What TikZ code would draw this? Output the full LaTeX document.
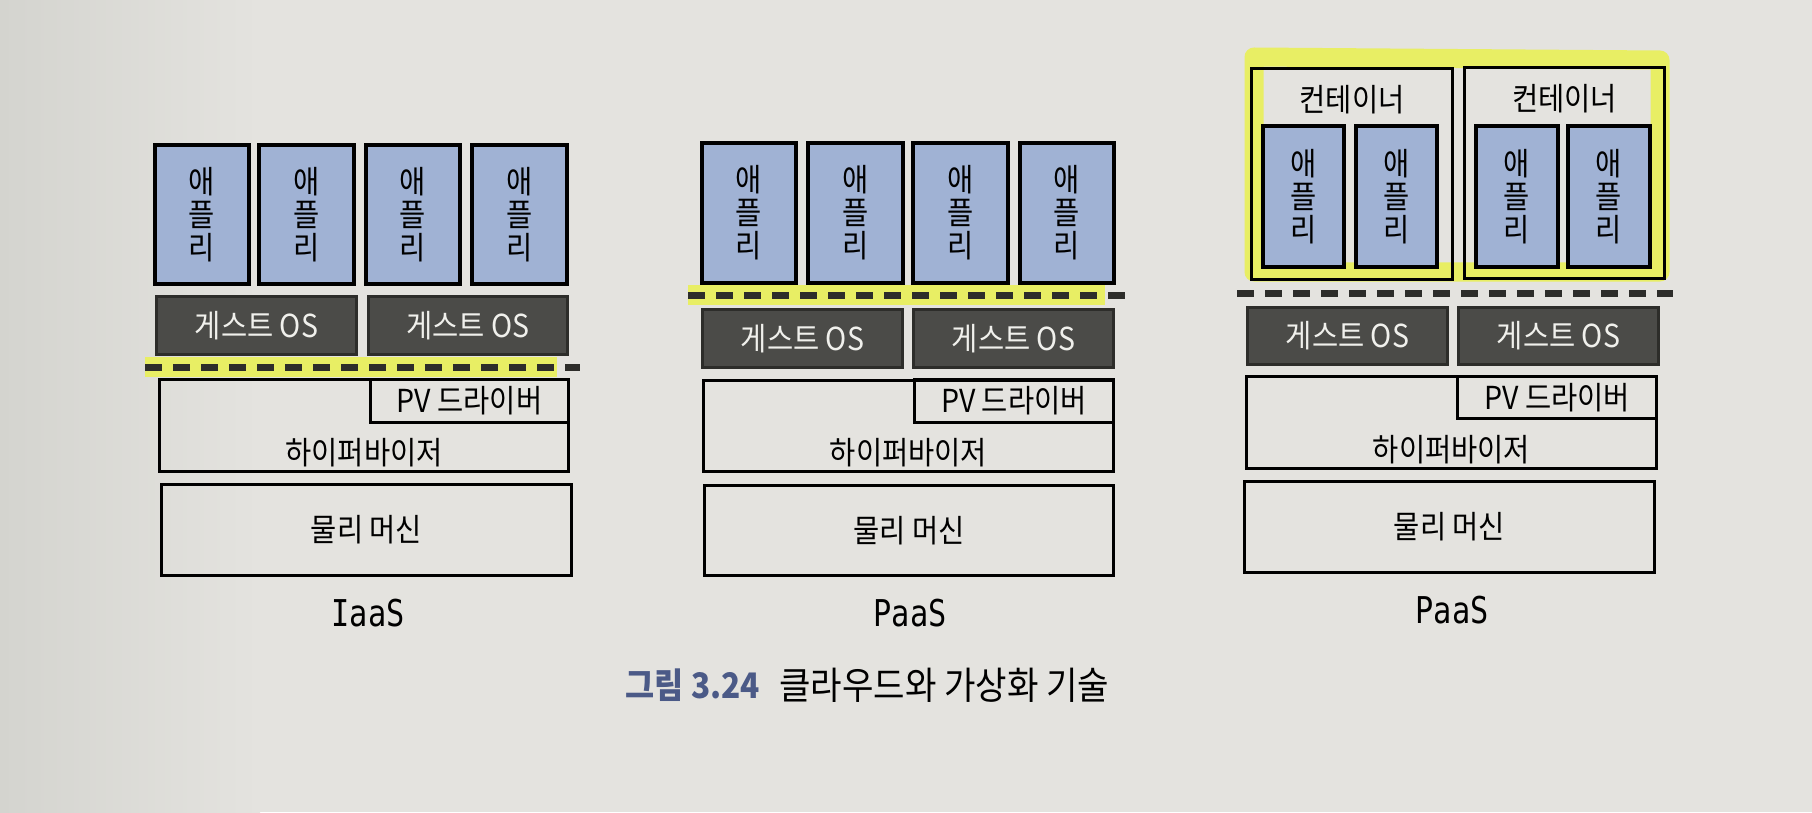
\documentclass[tikz,border=0pt]{standalone}
\usepackage{fontspec}
\setmainfont[FakeStretch=0.9]{Noto Sans CJK KR}
\newfontfamily\tagfont[FakeStretch=0.82]{DejaVu Sans Mono}
\usetikzlibrary{positioning}

\begin{document}
\begin{tikzpicture}[x=0.01cm,y=-0.01cm,
    box/.style={draw=black,line width=0.03cm,inner sep=0pt,font=\fontsize{9}{9.4}\selectfont},
    app/.style={box,fill=r160g178b212,line width=0.04cm,minimum width=0.94cm,minimum height=1.39cm,align=center},
    capp/.style={app,minimum width=0.81cm,minimum height=1.41cm},
    guest/.style={box,fill=r75g75b72,draw=r45g45b42,text=r240g240b236,minimum width=1.99cm,minimum height=0.57cm},
    hyper/.style={box,minimum width=4.09cm,minimum height=0.91cm},
    pvdrv/.style={box,minimum width=1.98cm,minimum height=0.42cm},
    phys/.style={box,minimum width=4.09cm,minimum height=0.90cm},
    cont/.style={box,minimum width=2.00cm,minimum height=2.10cm},
    txt/.style={inner sep=0pt,font=\fontsize{9}{9.4}\selectfont},
    sep/.style={draw=r45g45b42,line width=0.07cm,dash pattern=on 0.17cm off 0.11cm},
    hilite/.style={draw=r232g238b100,line width=0.19cm},
    tag/.style={inner sep=0pt,font=\tagfont\fontsize{10.5}{11}\selectfont}]

    % Changing colors
    \definecolor{r228g227b223}{rgb}{0.894118,0.890196,0.874510}%
    \definecolor{r212g212b207}{rgb}{0.831373,0.831373,0.811765}%
    \definecolor{r160g178b212}{rgb}{0.627451,0.698039,0.831373}%
    \definecolor{r75g75b72}{rgb}{0.294118,0.294118,0.282353}%
    \definecolor{r45g45b42}{rgb}{0.176471,0.176471,0.164706}%
    \definecolor{r240g240b236}{rgb}{0.941176,0.941176,0.925490}%
    \definecolor{r232g238b100}{rgb}{0.909804,0.933333,0.392157}%
    \definecolor{r75g90b135}{rgb}{0.294118,0.352941,0.529412}%

    % Filling page
    \useasboundingbox (0,0) rectangle (1812,812);
    \fill[r228g227b223] (0,0) rectangle (1812,812);
    \shade[left color=r212g212b207,right color=r228g227b223] (0,0) rectangle (260,812);

    % ---------- IaaS ----------
    % Drawing highlight below guest OS
    \draw[hilite] (145,367) -- (557,367);
    \draw[sep] (145,367) -- (580,367);

    % Drawing apps
    \node[app] (ia1) at (202,214.5) {애\\플\\리};
    \node[app] (ia2) at (306.5,214.5) {애\\플\\리};
    \node[app] (ia3) at (413,214.5) {애\\플\\리};
    \node[app] (ia4) at (519.5,214.5) {애\\플\\리};

    % Drawing guest OS
    \node[guest] (ig1) at (256.5,325.5) {게스트 OS};
    \node[guest] (ig2) at (468,325.5) {게스트 OS};

    % Drawing hypervisor and PV driver
    \node[hyper] (ih) at (364,425.5) {};
    \node[pvdrv] (ip) at (469.5,401) {PV 드라이버};
    \node[txt,above=0.05cm of ih.south] (iht) {하이퍼바이저};

    % Drawing physical machine
    \node[phys] (im) at (366.5,530) {물리 머신};
    \node[tag] (il) at (368,613) {IaaS};

    % ---------- PaaS ----------
    % Drawing highlight below apps
    \draw[hilite] (688,295) -- (1105,295);
    \draw[sep] (688,295) -- (1125,295);

    % Drawing apps
    \node[app] (pa1) at (749,213) {애\\플\\리};
    \node[app] (pa2) at (855.5,213) {애\\플\\리};
    \node[app] (pa3) at (960.5,213) {애\\플\\리};
    \node[app] (pa4) at (1067,213) {애\\플\\리};

    % Drawing guest OS
    \node[guest] (pg1) at (802.5,338.5) {게스트 OS};
    \node[guest] (pg2) at (1013.5,338.5) {게스트 OS};

    % Drawing hypervisor and PV driver
    \node[hyper] (ph) at (908.5,426) {};
    \node[pvdrv] (pp) at (1014,401) {PV 드라이버};
    \node[txt,above=0.05cm of ph.south] (pht) {하이퍼바이저};

    % Drawing physical machine
    \node[phys] (pm) at (909,530.5) {물리 머신};
    \node[tag] (pl) at (910,613) {PaaS};

    % ---------- PaaS (container) ----------
    % Drawing highlight round containers
    \draw[hilite,line join=round] (1254,57) -- (1660,60) -- (1660,272) -- (1254,272) -- cycle;
    \draw[sep] (1237,293) -- (1673,293);

    % Drawing containers
    \node[cont] (cc1) at (1352,174) {};
    \node[cont] (cc2) at (1564.5,173) {};
    \node[txt,below=0.17cm of cc1.north] (cct1) {컨테이너};
    \node[txt,below=0.17cm of cc2.north] (cct2) {컨테이너};

    % Drawing apps
    \node[capp] (ca1) at (1303.5,196.5) {애\\플\\리};
    \node[capp] (ca2) at (1396.5,196.5) {애\\플\\리};
    \node[capp] (ca3) at (1517,196.5) {애\\플\\리};
    \node[capp] (ca4) at (1609,196.5) {애\\플\\리};

    % Drawing guest OS
    \node[guest] (cg1) at (1347.5,336) {게스트 OS};
    \node[guest] (cg2) at (1558.5,336) {게스트 OS};

    % Drawing hypervisor and PV driver
    \node[hyper] (ch) at (1451.5,422.5) {};
    \node[pvdrv] (cp) at (1557,397.5) {PV 드라이버};
    \node[txt,above=0.05cm of ch.south] (cht) {하이퍼바이저};

    % Drawing physical machine
    \node[phys] (cm) at (1449.5,527) {물리 머신};
    \node[tag] (cl) at (1452,610) {PaaS};

    % Drawing caption
    \node[inner sep=0pt,anchor=west,text=r75g90b135,font=\bfseries\fontsize{10}{11}\selectfont] (capnum) at (625,685) {그림 3.24};
    \node[inner sep=0pt,right=0.18cm of capnum,font=\fontsize{10.8}{12}\selectfont] (captxt) {클라우드와 가상화 기술};
\end{tikzpicture}
\end{document}
